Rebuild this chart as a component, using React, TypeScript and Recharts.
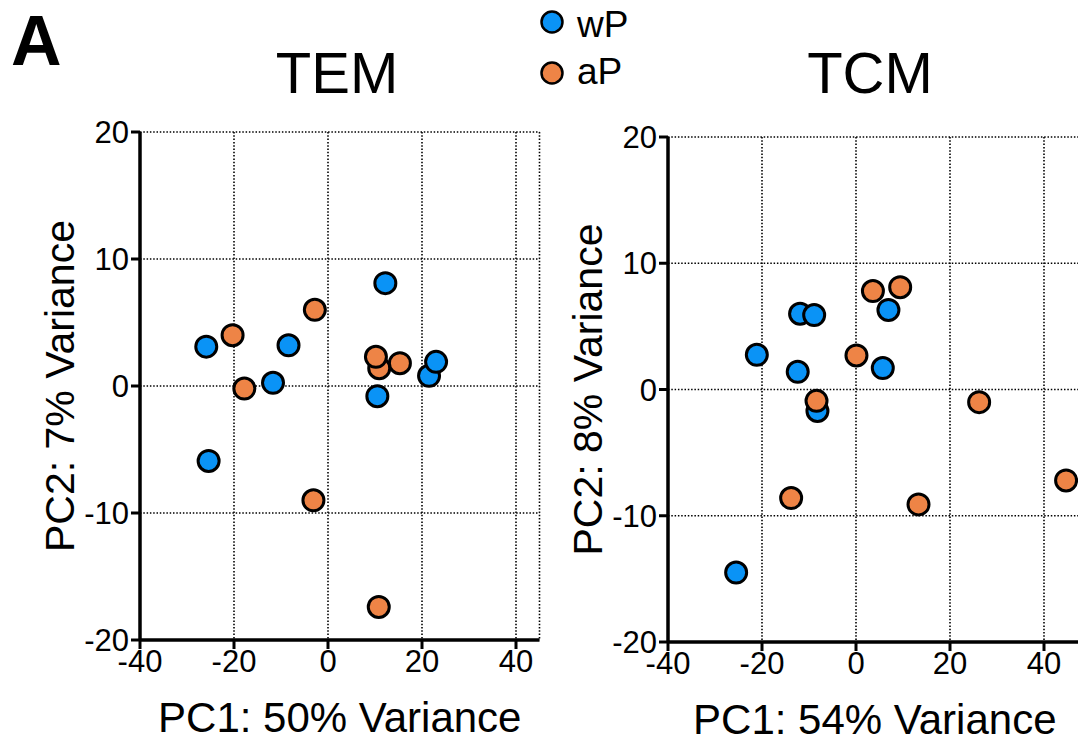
import { ScatterChart, Scatter, XAxis, YAxis, CartesianGrid } from "recharts";

const BLUE = "#0a93f6";
const ORANGE = "#ee8446";
const FONT = "'Liberation Sans', Arial, Helvetica, sans-serif";

const X_TICKS = [-40, -20, 0, 20, 40];
const Y_TICKS = [-20, -10, 0, 10, 20];

// TEM panel
const temWP = [
  { x: -25.9, y: 3.1 }, { x: -25.4, y: -5.9 }, { x: -8.4, y: 3.2 }, { x: -11.7, y: 0.25 },
  { x: 12.2, y: 8.1 }, { x: 10.5, y: -0.8 }, { x: 21.5, y: 0.8 }, { x: 23.0, y: 1.9 },
];
const temAP = [
  { x: -20.3, y: 4.0 }, { x: -17.8, y: -0.2 }, { x: -2.8, y: 6.0 }, { x: -3.1, y: -9.0 },
  { x: 10.9, y: 1.4 }, { x: 10.2, y: 2.3 }, { x: 15.3, y: 1.8 }, { x: 10.8, y: -17.4 },
];

// TCM panel
const tcmWP = [
  { x: -21.1, y: 2.75 }, { x: -11.9, y: 6.0 }, { x: -8.9, y: 5.9 }, { x: -12.4, y: 1.4 },
  { x: -8.2, y: -1.7 }, { x: 6.9, y: 6.3 }, { x: 5.7, y: 1.7 }, { x: -25.5, y: -14.5 },
];
const tcmAP = [
  { x: -8.4, y: -0.9 }, { x: 3.6, y: 7.8 }, { x: 9.4, y: 8.1 }, { x: 0.1, y: 2.7 },
  { x: 26.2, y: -1.0 }, { x: 44.7, y: -7.2 }, { x: -13.8, y: -8.6 }, { x: 13.3, y: -9.1 },
];

const Dot = (props: any) => (
  <circle cx={props.cx} cy={props.cy} r={10.5} fill={props.fill} stroke="#000" strokeWidth={3} />
);

const tickStyle = { fontSize: 31, fill: "#000", fontFamily: FONT };

interface PanelProps {
  left: number;
  width: number;
  plotLeft: number;
  plotTop: number;
  plotBottom: number;
  xMax: number;
  wp: { x: number; y: number }[];
  ap: { x: number; y: number }[];
  xTitle: string;
  yTitle: string;
}

function Panel({ left, width, plotLeft, plotTop, plotBottom, xMax, wp, ap, xTitle, yTitle }: PanelProps) {
  const yAxisW = plotLeft - left;
  const xAxisH = 751 - plotBottom;
  const plotW = (xMax + 40) * 4.7;
  const right = width - yAxisW - plotW;
  return (
    <div style={{ position: "absolute", left, top: 0 }}>
      <ScatterChart width={width} height={751} margin={{ top: plotTop, right, bottom: 0, left: 0 }}>
        <CartesianGrid stroke="#000" strokeWidth={1.6} strokeDasharray="1.5 1.8" />
        <XAxis
          type="number"
          dataKey="x"
          domain={[-40, xMax]}
          ticks={X_TICKS}
          height={xAxisH}
          allowDataOverflow
          axisLine={{ stroke: "#000", strokeWidth: 3.5 }}
          tickLine={{ stroke: "#000", strokeWidth: 3 }}
          tickSize={9}
          tickMargin={1}
          tick={tickStyle}
          label={{
            value: xTitle,
            content: (p: any) => (
              <text
                x={p.viewBox.x + p.viewBox.width / 2}
                y={p.viewBox.y + 92}
                textAnchor="middle"
                fontSize={42}
                fontFamily={FONT}
                fill="#000"
              >
                {xTitle}
              </text>
            ),
          }}
        />
        <YAxis
          type="number"
          dataKey="y"
          domain={[-20, 20]}
          ticks={Y_TICKS}
          width={yAxisW}
          axisLine={{ stroke: "#000", strokeWidth: 3.5 }}
          tickLine={{ stroke: "#000", strokeWidth: 3 }}
          tickSize={9}
          tickMargin={2}
          tick={tickStyle}
          label={{
            value: yTitle,
            content: (p: any) => {
              const cx = p.viewBox.x + p.viewBox.width - 80;
              const cy = p.viewBox.y + p.viewBox.height / 2;
              return (
                <text
                  x={cx}
                  y={cy}
                  transform={`rotate(-90 ${cx} ${cy})`}
                  textAnchor="middle"
                  dominantBaseline="central"
                  fontSize={41}
                  fontFamily={FONT}
                  fill="#000"
                >
                  {yTitle}
                </text>
              );
            },
          }}
        />
        <Scatter data={wp} fill={BLUE} shape={Dot} isAnimationActive={false} />
        <Scatter data={ap} fill={ORANGE} shape={Dot} isAnimationActive={false} />
      </ScatterChart>
    </div>
  );
}

export default function App() {
  return (
    <div
      style={{
        position: "absolute",
        left: 0,
        top: 0,
        width: 1078,
        height: 751,
        overflow: "hidden",
        background: "#fff",
        fontFamily: FONT,
      }}
    >
      <Panel
        left={0}
        width={560}
        plotLeft={140}
        plotTop={132}
        plotBottom={640}
        xMax={45}
        wp={temWP}
        ap={temAP}
        xTitle="PC1: 50% Variance"
        yTitle="PC2: 7% Variance"
      />
      <Panel
        left={560}
        width={530}
        plotLeft={668}
        plotTop={137}
        plotBottom={642}
        xMax={48}
        wp={tcmWP}
        ap={tcmAP}
        xTitle="PC1: 54% Variance"
        yTitle="PC2: 8% Variance"
      />
      <svg
        width={1078}
        height={751}
        style={{ position: "absolute", left: 0, top: 0, pointerEvents: "none" }}
        fontFamily={FONT}
      >
        <text x={11} y={65} fontSize={70} fontWeight="bold">A</text>
        <text x={337} y={93} fontSize={58} textAnchor="middle">TEM</text>
        <text x={870} y={93} fontSize={58} textAnchor="middle">TCM</text>
        <circle cx={552} cy={22} r={10.5} fill={BLUE} stroke="#000" strokeWidth={2.5} />
        <text x={577} y={37} fontSize={37}>wP</text>
        <circle cx={552} cy={73} r={10.5} fill={ORANGE} stroke="#000" strokeWidth={2.5} />
        <text x={577} y={84} fontSize={37}>aP</text>
      </svg>
    </div>
  );
}
